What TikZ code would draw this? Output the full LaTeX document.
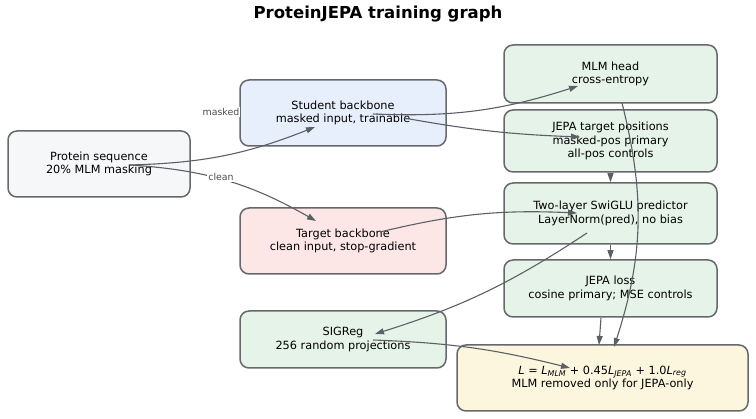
\documentclass[tikz,border=0pt]{standalone}
\usepackage{fontspec}
\setmainfont{DejaVu Sans}
\usepackage{tikz}
\usetikzlibrary{arrows.meta, calc}

\definecolor{edgegray}{RGB}{102,104,108}
\definecolor{arrowgray}{RGB}{92,96,102}
\definecolor{seqfill}{RGB}{246,247,249}
\definecolor{studentfill}{RGB}{232,239,252}
\definecolor{targetfill}{RGB}{252,230,230}
\definecolor{lossfill}{RGB}{230,243,232}
\definecolor{totalfill}{RGB}{253,246,223}

\begin{document}
\begin{tikzpicture}[x = 1pt, y = -1pt,
    box/.style = {draw=edgegray, line width=1.5pt, rounded corners=9pt, align=center,
      inner sep=0pt, font=\fontsize{11.3}{13.5}\selectfont},
    flow/.style = {-{Triangle[length=9pt, width=6pt]}, draw=arrowgray, line width=1.1pt},
    edgelabel/.style = {fill=white, inner sep=1pt, text=black!70, font=\fontsize{9.4}{11}\selectfont}]
        \useasboundingbox (0,0) rectangle (756,419);
        \node[font=\fontsize{16.5}{19}\selectfont\bfseries] (title) at (378,14) {ProteinJEPA training graph};
        % left column
        \node[box, fill=seqfill, minimum width=182pt, minimum height=66pt] (protein) at (99,164) {Protein sequence\\20\% MLM masking};
        \node[box, fill=studentfill, minimum width=206pt, minimum height=66pt] (student) at (343,113) {Student backbone\\masked input, trainable};
        \node[box, fill=targetfill, minimum width=206pt, minimum height=66pt] (target) at (343,241) {Target backbone\\clean input, stop-gradient};
        \node[box, fill=lossfill, minimum width=206pt, minimum height=57pt] (sigreg) at (343,339.5) {SIGReg\\256 random projections};
        % right column
        \node[box, fill=lossfill, minimum width=213pt, minimum height=58pt] (mlmhead) at (610.5,74) {MLM head\\cross-entropy};
        \node[box, fill=lossfill, minimum width=213pt, minimum height=62pt] (jepatgt) at (610.5,141) {JEPA target positions\\masked-pos primary\\all-pos controls};
        \node[box, fill=lossfill, minimum width=213pt, minimum height=61pt] (swiglu) at (610.5,213.5) {Two-layer SwiGLU predictor\\LayerNorm(pred), no bias};
        \node[box, fill=lossfill, minimum width=213pt, minimum height=57pt] (jepaloss) at (610.5,288.5) {JEPA loss\\cosine primary; MSE controls};
        \node[box, fill=totalfill, minimum width=291pt, minimum height=66pt] (total) at (602.5,378)
          {\textit{L} = \textit{L}\textsubscript{\textit{MLM}} + 0.45\textit{L}\textsubscript{\textit{JEPA}} + 1.0\textit{L}\textsubscript{\textit{reg}}\\MLM removed only for JEPA-only};
        % connectors
        \draw[flow] ($(protein.center)+(31,1)$) to[bend right=10] ($(student.center)+(-28,14)$);
        \draw[flow] ($(protein.center)+(31,1)$) to[bend left=13] ($(target.center)+(-27,-20)$);
        \draw[flow] ($(student.center)+(30,1)$) to[bend right=10] ($(mlmhead.center)+(-32.5,12)$);
        \draw[flow] ($(student.center)+(61,5)$) to[bend right=4] ($(jepatgt.center)+(-30.5,-4)$);
        \draw[flow] ($(target.center)+(37,-9)$) to[bend left=8] ($(swiglu.center)+(-33.5,-0.5)$);
        \draw[flow] ($(swiglu.center)+(-23.5,19.5)$) to[bend left=8] ($(sigreg.center)+(32,-5.5)$);
        \draw[flow] ($(mlmhead.center)+(11.5,29)$) to[bend left=16] ($(total.center)+(11.5,-31)$);
        \draw[flow] (jepatgt.south) -- (swiglu.north);
        \draw[flow] (swiglu.south) -- (jepaloss.north);
        \draw[flow] ($(jepaloss.center)+(-9.5,29.5)$) -- ($(total.center)+(-3.5,-33)$);
        \draw[flow] ($(sigreg.center)+(30,0.5)$) to[bend left=6] ($(total.center)+(-32.5,-10)$);
        \node[edgelabel] (maskedlabel) at (221,112) {masked};
        \node[edgelabel] (cleanlabel) at (221,177) {clean};
      \end{tikzpicture}
\end{document}
